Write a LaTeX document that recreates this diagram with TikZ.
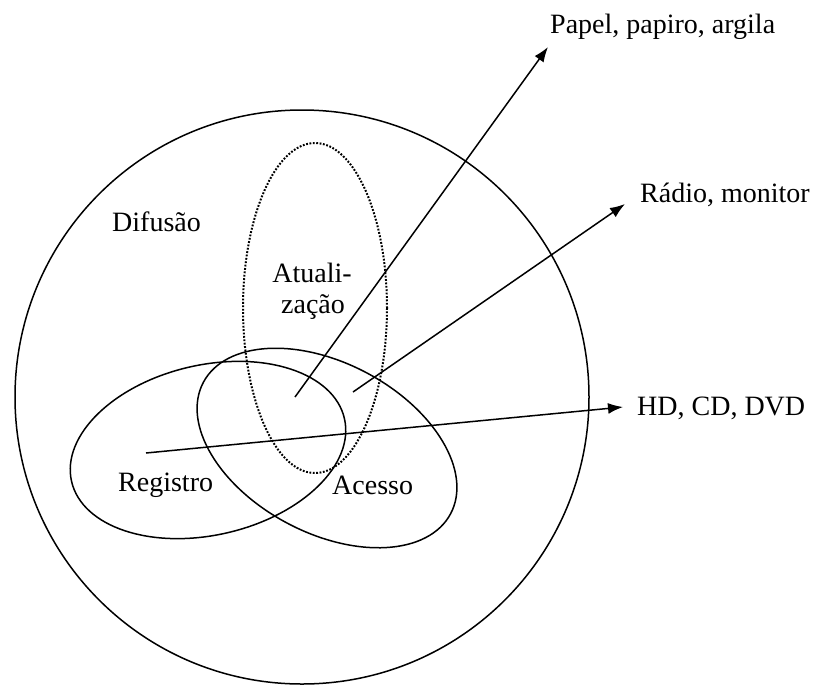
\documentclass[tikz,border=0pt]{standalone}
\usepackage{fontspec}
\setmainfont{Liberation Serif}
\usetikzlibrary{arrows.meta}
\begin{document}
\begin{tikzpicture}[x=1pt,y=-1pt,
  shapeline/.style={line width=1.5pt},
  dotline/.style={line width=2pt, dash pattern=on 1.8pt off 1.6pt},
  conn/.style={line width=1.5pt,-{Latex[length=15pt,width=11pt]}},
  lbl/.style={font=\fontsize{28}{31}\selectfont, inner sep=0pt, anchor=base west},
  lblc/.style={font=\fontsize{28}{31}\selectfont, inner sep=0pt, anchor=base}]
\useasboundingbox (0,0) rectangle (827,686);
% big circle (Difusao)
\draw[shapeline] (302,397) circle [radius=287];
% dotted ellipse (Atualizacao)
\draw[dotline] (315,308) ellipse [x radius=72, y radius=165];
% Registro ellipse
\begin{scope}[shift={(208,450)}, rotate=13]
  \draw[shapeline] (0,0) ellipse [x radius=140, y radius=85];
\end{scope}
% Acesso ellipse
\begin{scope}[shift={(327,448)}, rotate=-28]
  \draw[shapeline] (0,0) ellipse [x radius=140, y radius=85];
\end{scope}
% labels
\node[lbl] (difusao) at (112,231) {Difusão};
\node[lblc] (atual1) at (312,282) {Atuali-};
\node[lblc] (atual2) at (313,313) {zação};
\node[lbl] (registro) at (118,491) {Registro};
\node[lbl] (acesso) at (332,494) {Acesso};
\node[lbl] (papel) at (550,33) {Papel, papiro, argila};
\node[lbl] (radio) at (640,202) {Rádio, monitor};
\node[lbl] (hd) at (637,415) {HD, CD, DVD};
% connector ends
\coordinate (s1) at (295,397);
\coordinate (e1) at (548,47);
\coordinate (s2) at (353,392);
\coordinate (e2) at (625,204);
\coordinate (s3) at (146,453);
\coordinate (e3) at (623,407);
\draw[conn] (s1) -- (e1);
\draw[conn] (s2) -- (e2);
\draw[conn] (s3) -- (e3);
\end{tikzpicture}
\end{document}
